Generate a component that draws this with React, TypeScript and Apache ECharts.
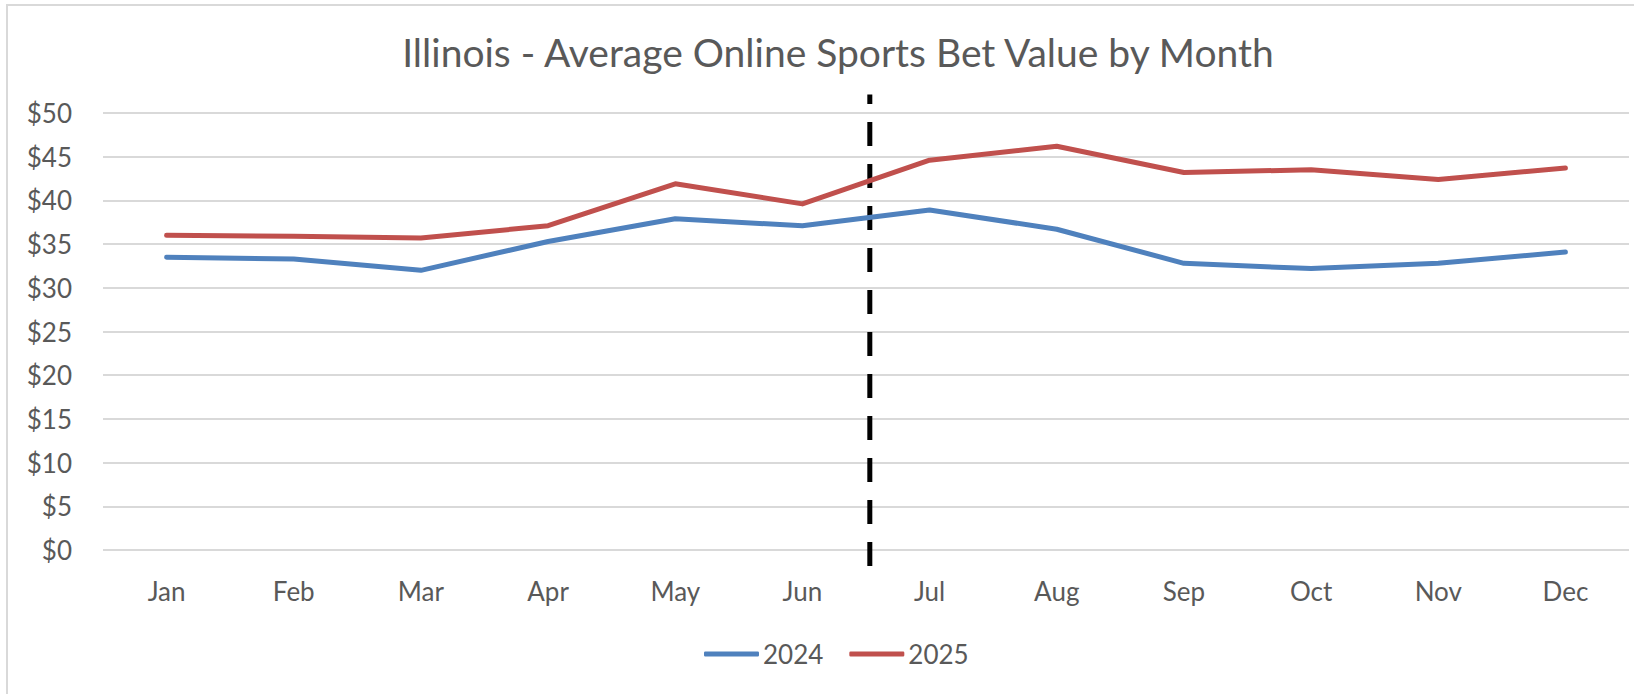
import React, { useEffect, useRef } from "react";
import * as echarts from "echarts";

const months = ["Jan", "Feb", "Mar", "Apr", "May", "Jun", "Jul", "Aug", "Sep", "Oct", "Nov", "Dec"];
const values2024 = [33.5, 33.3, 32.0, 35.3, 37.9, 37.1, 38.9, 36.7, 32.8, 32.2, 32.8, 34.1];
const values2025 = [36.0, 35.9, 35.7, 37.1, 41.9, 39.6, 44.6, 46.2, 43.2, 43.5, 42.4, 43.7];
const dividerAt = [5.53];
const yTicks = { min: 0, max: 50, interval: 5 };

const FONT = "Lato, 'Open Sans', sans-serif";
const TEXT = "#595959";

export default function App() {
  const ref = useRef<HTMLDivElement>(null);
  useEffect(() => {
    if (!ref.current) return;
    const chart = echarts.init(ref.current, undefined, { renderer: "svg" });
    chart.setOption({
      animation: false,
      backgroundColor: "#ffffff",
      title: {
        text: "Illinois - Average Online Sports Bet Value by Month",
        left: 833,
        top: 27,
        textAlign: "center",
        textStyle: { fontFamily: FONT, fontSize: 39, fontWeight: "normal", color: TEXT },
      },
      legend: {
        data: ["2024", "2025"],
        left: 699,
        top: 636,
        icon: "roundRect",
        itemWidth: 55,
        itemHeight: 5,
        itemGap: 26,
        textStyle: { fontFamily: FONT, fontSize: 26, color: TEXT, padding: [0, 0, 0, -1] },
      },
      grid: { left: 103, right: 5, top: 113, bottom: 144, containLabel: false },
      xAxis: [
        {
          type: "category",
          data: months,
          boundaryGap: true,
          axisLine: { show: false },
          axisTick: { show: false },
          axisLabel: { fontFamily: FONT, fontSize: 26, color: TEXT, margin: 28 },
        },
        { type: "value", min: -0.5, max: 11.5, show: false },
      ],
      yAxis: {
        type: "value",
        min: yTicks.min,
        max: yTicks.max,
        interval: yTicks.interval,
        axisLine: { show: false },
        axisTick: { show: false },
        axisLabel: {
          fontFamily: FONT,
          fontSize: 26,
          color: TEXT,
          margin: 31,
          formatter: (v: number) => "$" + v,
        },
        splitLine: { lineStyle: { color: "#D9D9D9", width: 2 } },
      },
      series: [
        {
          name: "2024",
          type: "line",
          data: values2024,
          symbol: "none",
          itemStyle: { color: "#4F81BD" },
          lineStyle: { color: "#4F81BD", width: 5, cap: "round", join: "round" },
        },
        {
          name: "2025",
          type: "line",
          data: values2025,
          symbol: "none",
          itemStyle: { color: "#C0504D" },
          lineStyle: { color: "#C0504D", width: 5, cap: "round", join: "round" },
        },
        {
          name: "divider",
          type: "custom",
          xAxisIndex: 1,
          yAxisIndex: 0,
          clip: false,
          silent: true,
          data: dividerAt.map((d) => [d]),
          renderItem: (_p: any, api: any) => {
            const x = api.coord([api.value(0), 0])[0];
            const yb = api.coord([0, yTicks.min])[1];
            const yt = api.coord([0, yTicks.max])[1];
            return {
              type: "line",
              shape: { x1: x, y1: yb + 16, x2: x, y2: yt - 18.6 },
              style: { stroke: "#000000", lineWidth: 5, lineDash: [24, 18] },
            };
          },
        },
      ],
      graphic: [
        {
          type: "polyline",
          shape: { points: [[7, 700], [7, 5], [1640, 5]] },
          style: { stroke: "#D9D9D9", lineWidth: 2, fill: "none" },
          silent: true,
        },
      ],
    });
    return () => chart.dispose();
  }, []);
  return (
    <div
      ref={ref}
      style={{ position: "fixed", left: 0, top: 0, width: 1634, height: 694 }}
    />
  );
}
